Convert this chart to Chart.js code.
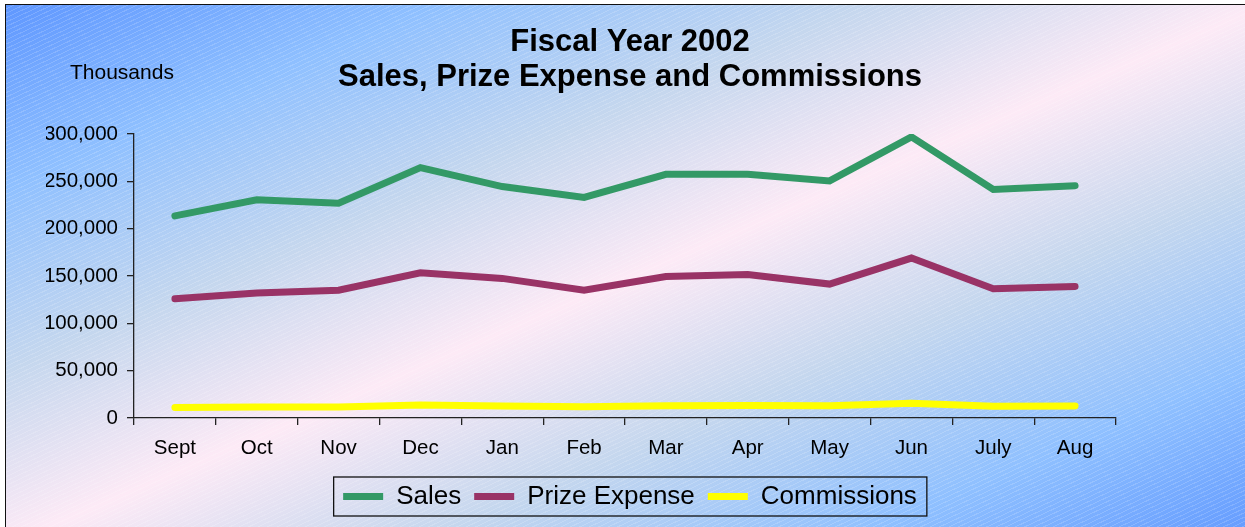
<!DOCTYPE html>
<html>
<head>
<meta charset="utf-8">
<script src="https://cdn.jsdelivr.net/npm/chart.js@4.4.1/dist/chart.umd.min.js"></script>
<style>
  html, body { margin: 0; padding: 0; background: #fff; }
  body { width: 1245px; height: 527px; position: relative; overflow: hidden; }
  #frame {
    position: absolute; left: 5px; top: 4px; width: 1260px; height: 540px;
    border-left: 1px solid #111; border-top: 1px solid #111;
    background:
      repeating-linear-gradient(155deg, rgba(255,255,255,0) 0 3px, rgba(255,255,255,0.16) 3px 4px),
      linear-gradient(to bottom right, #5f97ff 0%, #8fc0ff 17%, #c5d7ee 34%, #fdeaf6 50%, #c5d7ee 66%, #8fc0ff 83%, #5f97ff 100%);
  }
  #chart { position: absolute; left: 0; top: 0; }
</style>
</head>
<body>
<div id="frame"></div>
<canvas id="chart" width="1245" height="527"></canvas>
<script>
// Chart data
const months = ['Sept', 'Oct', 'Nov', 'Dec', 'Jan', 'Feb', 'Mar', 'Apr', 'May', 'Jun', 'July', 'Aug'];
const sales = [213500, 230500, 227000, 264500, 244500, 233000, 257500, 257500, 250500, 297000, 241500, 245500];
const prizeExpense = [126000, 132000, 135000, 153500, 147500, 135000, 149500, 151500, 141500, 169000, 136500, 139000];
const commissions = [11200, 11500, 11600, 13700, 12600, 11900, 13000, 13200, 13000, 15500, 12500, 12800];
const titleLines = ['Fiscal Year 2002', 'Sales, Prize Expense and Commissions'];
const unitLabel = 'Thousands';

const FONT = 'Arial, "Liberation Sans", Helvetica, sans-serif';
const AXIS_COLOR = '#222';

// "Thousands" label above the y axis
const unitLabelPlugin = {
    id: 'unitLabel',
    afterDraw(chart) {
        const ctx = chart.ctx;
        ctx.save();
        ctx.font = `21px ${FONT}`;
        ctx.fillStyle = '#000';
        ctx.textAlign = 'left';
        ctx.textBaseline = 'middle';
        ctx.fillText(unitLabel, 70, 73);
        ctx.restore();
    }
};

// Border round the legend items
const legendBoxPlugin = {
    id: 'legendBox',
    afterDraw(chart) {
        const boxes = chart.legend && chart.legend.legendHitBoxes;
        if (!boxes || !boxes.length) return;
        const first = boxes[0];
        const last = boxes[boxes.length - 1];
        const cy = first.top + first.height / 2;
        const ctx = chart.ctx;
        ctx.save();
        ctx.strokeStyle = '#111';
        ctx.lineWidth = 1.3;
        ctx.strokeRect(first.left - 9.5, cy - 19.5, (last.left + last.width + 10) - (first.left - 9.5), 39);
        ctx.restore();
    }
};

function lineDataset(label, data, color) {
    return {
        label: label,
        data: data,
        borderColor: color,
        backgroundColor: color,
        borderWidth: 7,
        borderCapStyle: 'round',
        borderJoinStyle: 'miter',
        pointRadius: 0,
        pointHoverRadius: 0,
        tension: 0,
        fill: false,
        yAxisID: 'y'
    };
}

const chart = new Chart(document.getElementById('chart').getContext('2d'), {
    type: 'line',
    data: {
        labels: months,
        datasets: [
            lineDataset('Sales', sales, '#339966'),
            lineDataset('Prize Expense', prizeExpense, '#993366'),
            lineDataset('Commissions', commissions, '#ffff00')
        ]
    },
    plugins: [unitLabelPlugin, legendBoxPlugin],
    options: {
        responsive: false,
        animation: false,
        devicePixelRatio: 1,
        layout: { padding: { left: 46, right: 31, top: 0, bottom: 7.5 } },
        plugins: {
            tooltip: { enabled: false },
            title: {
                display: true,
                text: titleLines,
                color: '#000',
                font: { family: FONT, size: 31, weight: 'bold', lineHeight: 1.13 },
                padding: { top: 25, bottom: 39 }
            },
            legend: {
                position: 'bottom',
                labels: {
                    usePointStyle: true,
                    pointStyle: 'line',
                    pointStyleWidth: 40,
                    color: '#000',
                    padding: 13,
                    font: { family: FONT, size: 26 }
                }
            }
        },
        scales: {
            x: {
                offset: true,
                grid: { display: true, drawOnChartArea: false, drawTicks: true, tickLength: 7, color: AXIS_COLOR, lineWidth: 1.3, offset: true },
                border: { display: true, color: AXIS_COLOR, width: 1.3 },
                ticks: { color: '#000', padding: 11, maxRotation: 0, font: { family: FONT, size: 20.5 } },
                afterFit(scale) { scale.height = 52.5; }
            },
            y: {
                min: 0,
                max: 300000,
                grid: { display: true, drawOnChartArea: false, drawTicks: true, tickLength: 7, color: AXIS_COLOR, lineWidth: 1.3 },
                border: { display: true, color: AXIS_COLOR, width: 1.3 },
                ticks: {
                    stepSize: 50000,
                    color: '#000',
                    padding: 9,
                    font: { family: FONT, size: 20.5 },
                    callback: value => value.toLocaleString('en-US')
                },
                afterFit(scale) { scale.width = 88; }
            },
            // empty right-hand axis, keeps the plot narrower than the title/legend band
            yRight: {
                position: 'right',
                display: true,
                grid: { display: false },
                border: { display: false },
                ticks: { display: false },
                afterFit(scale) { scale.width = 98; }
            }
        }
    }
});
</script>
</body>
</html>
